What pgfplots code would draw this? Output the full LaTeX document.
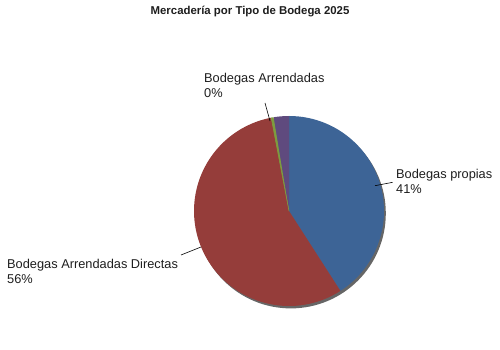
\documentclass[border=0pt]{standalone}
\usepackage{pgfplots}
\usepackage{pgfplotstable}
\pgfplotsset{compat=1.18}
\usepackage{fontspec}
\setmainfont{Liberation Sans}
\definecolor{sBlue}{HTML}{3D6496}
\definecolor{sRed}{HTML}{953D3A}
\definecolor{sGreen}{HTML}{7E9C3E}
\definecolor{sPurple}{HTML}{5F4A7E}
\definecolor{txt}{HTML}{1E1E1E}

\pgfplotstableread{
label value
propias 40.9
directas 56.1
arrendadas 0.4
otros 2.6
}\piedata

\begin{document}%
\pgfplotstablegetelem{0}{value}\of\piedata\let\va\pgfplotsretval%
\pgfplotstablegetelem{1}{value}\of\piedata\let\vb\pgfplotsretval%
\pgfplotstablegetelem{2}{value}\of\piedata\let\vc\pgfplotsretval%
\pgfplotstablegetelem{3}{value}\of\piedata\let\vd\pgfplotsretval%
\pgfmathsetmacro\aA{90}%
\pgfmathsetmacro\aB{90-3.6*\va}%
\pgfmathsetmacro\aC{\aB-3.6*\vb}%
\pgfmathsetmacro\aD{\aC-3.6*\vc}%
\pgfmathsetmacro\aE{\aD-3.6*\vd}%
\def\cx{289}\def\cy{139}\def\R{95}%
\begin{tikzpicture}
\begin{axis}[
  width=500pt, height=350pt, scale only axis,
  xmin=0, xmax=500, ymin=0, ymax=350,
  enlargelimits=false, hide axis, clip=false,
]
\path (axis cs:0,0) rectangle (axis cs:500,350);
% shadow
\fill[black!80, opacity=0.75] (axis cs:\cx+1.8,\cy-2.4) circle[radius=95pt];
% slices
\fill[sBlue] (axis cs:\cx,\cy) -- (axis cs:{\cx+\R*cos(\aA)},{\cy+\R*sin(\aA)}) arc[start angle=\aA, end angle=\aB, radius=95pt] -- cycle;
\fill[sRed] (axis cs:\cx,\cy) -- (axis cs:{\cx+\R*cos(\aB)},{\cy+\R*sin(\aB)}) arc[start angle=\aB, end angle=\aC, radius=95pt] -- cycle;
\fill[sPurple] (axis cs:\cx,\cy) -- (axis cs:{\cx+\R*cos(\aD)},{\cy+\R*sin(\aD)}) arc[start angle=\aD, end angle=\aE, radius=95pt] -- cycle;
\fill[sGreen] (axis cs:\cx,\cy) -- (axis cs:{\cx+\R*cos(\aC)},{\cy+\R*sin(\aC)}) arc[start angle=\aC, end angle=\aD, radius=95pt] -- cycle;
\draw[sGreen, line width=0.6pt] (axis cs:\cx,\cy) -- (axis cs:{\cx+\R*cos(\aC)},{\cy+\R*sin(\aC)});
% leader lines
\draw[black, line width=0.6pt] (axis cs:265,247) -- (axis cs:270,229);
\draw[black, line width=0.6pt] (axis cs:375,164.3) -- (axis cs:392.7,167.7);
\draw[black, line width=0.6pt] (axis cs:181,95) -- (axis cs:201,103);
% labels
\begin{scope}[every node/.style={inner sep=0pt, text=txt, font=\fontsize{12.8}{15}\selectfont}]
\node[anchor=base west] at (axis cs:204,267) {Bodegas Arrendadas};
\node[anchor=base west] at (axis cs:204,252.5) {0\%};
\node[anchor=base west] at (axis cs:396,171.7) {Bodegas propias};
\node[anchor=base west] at (axis cs:396,156.7) {41\%};
\node[anchor=base west] at (axis cs:7,81) {Bodegas Arrendadas Directas};
\node[anchor=base west] at (axis cs:7,66) {56\%};
\end{scope}
\node[anchor=base, inner sep=0pt, text=txt, font=\fontsize{11.4}{13}\selectfont\bfseries] at (axis cs:250,335) {Mercadería por Tipo de Bodega 2025};
\end{axis}
\end{tikzpicture}%
\end{document}
